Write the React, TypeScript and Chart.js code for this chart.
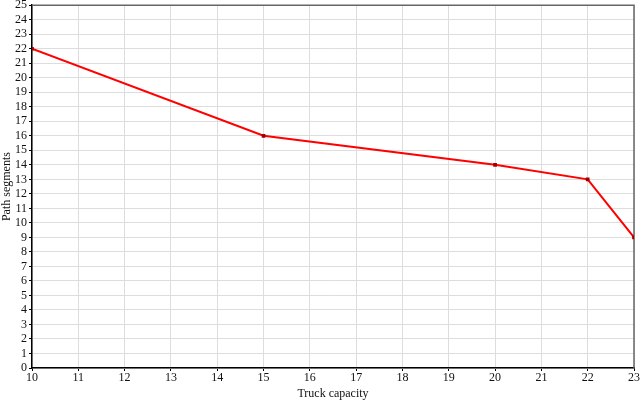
import { useEffect, useRef } from "react";
import { Chart, registerables, type ChartItem, type Plugin } from "chart.js";

Chart.register(...registerables);

const CAPACITY = [10, 15, 20, 22, 23];
const SEGMENTS = [22, 16, 14, 13, 9];

const FONT = "'Liberation Serif', 'Times New Roman', serif";

// grey frame on the top and right edges of the plot area
const frame: Plugin<"line"> = {
  id: "frame",
  beforeDatasetsDraw(chart) {
    const { ctx, chartArea: a } = chart;
    ctx.save();
    ctx.strokeStyle = "#666666";
    ctx.lineWidth = 1.5;
    ctx.beginPath();
    ctx.moveTo(a.left, a.top);
    ctx.lineTo(a.right, a.top);
    ctx.lineTo(a.right, a.bottom);
    ctx.stroke();
    ctx.restore();
  },
};

export default function App() {
  const canvasRef = useRef<HTMLCanvasElement>(null);
  const chartRef = useRef<Chart | null>(null);

  useEffect(() => {
    document.body.style.margin = "0";
    if (!canvasRef.current) return;
    chartRef.current?.destroy();

    const ctx = canvasRef.current.getContext("2d") as ChartItem;
    chartRef.current = new Chart(ctx, {
      type: "line",
      data: {
        datasets: [
          {
            data: CAPACITY.map((x, i) => ({ x, y: SEGMENTS[i] })),
            borderColor: "#ff0000",
            borderWidth: 2,
            pointStyle: "rect",
            pointRadius: 1.2,
            pointBackgroundColor: "#a00000",
            pointBorderColor: "#a00000",
            tension: 0,
          },
        ],
      },
      options: {
        animation: false,
        responsive: false,
        devicePixelRatio: 1,
        layout: { padding: { top: 0, right: 6, left: 0, bottom: 0 } },
        plugins: { legend: { display: false }, tooltip: { enabled: false } },
        scales: {
          x: {
            type: "linear",
            min: 10,
            max: 23,
            afterFit: (s) => {
              s.height = 33;
            },
            ticks: {
              stepSize: 1,
              autoSkip: false,
              maxRotation: 0,
              color: "#111",
              padding: 0,
              font: { family: FONT, size: 12 },
            },
            grid: { color: "#dddddd", tickLength: 3, tickColor: "#000" },
            border: { color: "#000", width: 1.5 },
            title: {
              display: true,
              text: "Truck capacity",
              color: "#111",
              padding: { top: 2, bottom: 0 },
              font: { family: FONT, size: 12 },
            },
          },
          y: {
            type: "linear",
            min: 0,
            max: 25,
            afterFit: (s) => {
              s.width = 32;
            },
            ticks: {
              stepSize: 1,
              autoSkip: false,
              color: "#111",
              padding: 2,
              font: { family: FONT, size: 12 },
            },
            grid: { color: "#dddddd", tickLength: 3, tickColor: "#000" },
            border: { color: "#000", width: 1.5 },
            title: {
              display: true,
              text: "Path segments",
              color: "#111",
              padding: { top: 0, bottom: 0 },
              font: { family: FONT, size: 12 },
            },
          },
        },
      },
      plugins: [frame],
    });

    return () => {
      chartRef.current?.destroy();
      chartRef.current = null;
    };
  }, []);

  return (
    <div style={{ width: 640, height: 401, overflow: "hidden", background: "#fff" }}>
      <canvas
        ref={canvasRef}
        width={640}
        height={405}
        style={{ display: "block", marginTop: -4 }}
      />
    </div>
  );
}
